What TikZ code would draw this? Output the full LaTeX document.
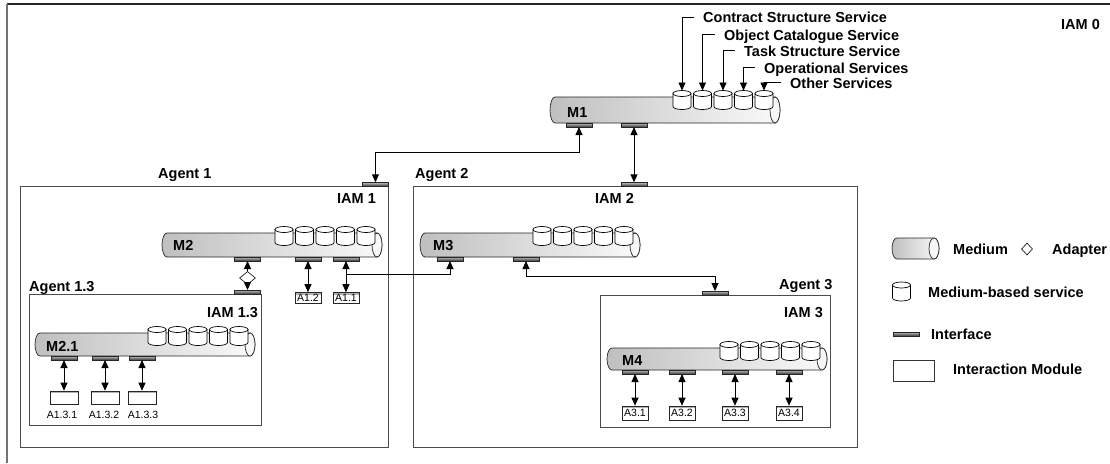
\documentclass[tikz,border=0pt]{standalone}
\usepackage{fontspec}
\setmainfont{Liberation Sans}
\usetikzlibrary{arrows.meta,calc,shapes.geometric}
\newcommand\mymedium[4]{%
  \pgfmathsetmacro\myry{(#4-#3)/2}%
  \pgfmathsetmacro\mymid{(#4+#3)/2}%
  \shade[draw=black!85, line width=0.7pt, left color=gray!50, right color=gray!4]
    (#1+5,#3) -- (#2-5,#3) arc[start angle=90,end angle=-90,x radius=5pt,y radius=\myry pt]
    -- (#1+5,#4) arc[start angle=270,end angle=90,x radius=5pt,y radius=\myry pt] -- cycle;
  \draw[line width=0.7pt, draw=black!85, fill=gray!6] (#2-5,\mymid) ellipse[x radius=5pt,y radius=\myry pt];
}
\newcommand\myservice[3]{%
  \draw[line width=0.7pt, fill=white] (#2-9,#3+3) -- (#2-9,#3+16)
    arc[start angle=180,end angle=360,x radius=9pt,y radius=3pt] -- (#2+9,#3+3) -- cycle;
  \draw[line width=0.7pt, fill=white] (#2,#3+3) ellipse[x radius=9pt,y radius=3pt];
  \coordinate (#1) at (#2,#3);
}
\newcommand\myservices[3]{% prefix, right end, top
  \foreach \i in {0,...,4} {%
    \pgfmathsetmacro\cx{#2-98+20.5*\i}%
    \myservice{#1\i}{\cx}{#3}%
  }%
}
\begin{document}
\begin{tikzpicture}[x=1pt,y=-1pt,
  lab/.style={font=\fontsize{14.5}{16}\selectfont\bfseries, inner sep=0pt, anchor=base west},
  small/.style={font=\fontsize{10.5}{12}\selectfont, inner sep=0pt},
  iface/.style={rectangle, draw=black!85, line width=0.5pt, top color=gray!55, bottom color=black!75,
    minimum width=26pt, minimum height=3.5pt, inner sep=0pt},
  module/.style={rectangle, draw=black!85, line width=0.6pt, fill=white, minimum width=26pt,
    minimum height=11pt, inner sep=0pt, font=\fontsize{10.5}{12}\selectfont,
    path picture={\fill[gray!60] (path picture bounding box.north west) rectangle ([yshift=-2.2pt]path picture bounding box.north east);}},
  agentbox/.style={draw=black!70, line width=1pt, inner sep=0pt, anchor=north west},
  arr/.style={line width=0.9pt, {Triangle[length=8pt,width=7pt]}-{Triangle[length=8pt,width=7pt]}},
  arrend/.style={line width=0.9pt, -{Triangle[length=8pt,width=7pt]}},
  adapter/.style={diamond, draw=black, line width=0.6pt, fill=white, minimum width=16pt, minimum height=13pt, inner sep=0pt}
]
\useasboundingbox (0,0) rectangle (1110,463);
% outer frame IAM 0
\draw[black!85, line width=1.3pt] (7,4) -- (1110,4);
\draw[black!55, line width=1.5pt] (7,4) -- (7,463);
\node[lab] (iam0) at (1061,29) {IAM 0};

% agent boxes
\node[agentbox, minimum width=368pt, minimum height=261pt] (ag1) at (20,186) {};
\node[agentbox, minimum width=232pt, minimum height=131pt] (ag13) at (29,294) {};
\node[agentbox, minimum width=444pt, minimum height=261pt] (ag2) at (413,186) {};
\node[agentbox, minimum width=230pt, minimum height=132pt] (ag3) at (600,295) {};

% M1
\mymedium{550}{780}{97}{123}
\myservices{ma}{780}{90.5}
\node[lab] (m1) at (567,117) {M1};
\node[lab] (t0) at (703,23) {Contract Structure Service};
\node[lab] (t1) at (724,40) {Object Catalogue Service};
\node[lab] (t2) at (744,56) {Task Structure Service};
\node[lab] (t3) at (764,73) {Operational Services};
\node[lab] (t4) at (790,88) {Other Services};
\foreach \i in {0,...,4} {\draw[arrend] ([shift={(-9pt,6pt)}]t\i.base west) -| (ma\i);}
\node[iface] (m1i1) at (579,125) {};
\node[iface] (m1i2) at (634,125) {};

% Agent 1
\node[lab] (a1t) at (158,178) {Agent 1};
\node[lab] (iam1) at (337,203) {IAM 1};
\node[iface] (ag1i) at (375.5,184.3) {};
\mymedium{162}{382}{233}{257}
\myservices{mb}{382}{226.5}
\node[lab] (m2) at (173,250) {M2};
\node[iface] (m2i1) at (247.5,259) {};
\node[iface] (m2i2) at (308,259) {};
\node[iface] (m2i3) at (346,259) {};
\node[module] (a12) at (308,298) {A1.2};
\node[module] (a11) at (346,298) {A1.1};
\node[adapter] (ad) at (247.5,278) {};

% Agent 1.3
\node[lab] (a13t) at (29,291) {Agent 1.3};
\node[lab] (iam13) at (207,317) {IAM 1.3};
\node[iface] (ag13i) at (247.5,292) {};
\mymedium{35}{255}{333}{356}
\myservices{mc}{255}{326.5}
\node[lab] (m21) at (46,351) {M2.1};
\node[iface] (m21i1) at (64,358) {};
\node[iface] (m21i2) at (105,358) {};
\node[iface] (m21i3) at (142,358) {};
\node[module, minimum width=28pt, minimum height=13pt] (a131) at (64,397.5) {};
\node[module, minimum width=28pt, minimum height=13pt] (a132) at (105,397.5) {};
\node[module, minimum width=28pt, minimum height=13pt] (a133) at (142,397.5) {};
\node[small, anchor=base] (a131l) at (62,418) {A1.3.1};
\node[small, anchor=base] (a132l) at (104,418) {A1.3.2};
\node[small, anchor=base] (a133l) at (143,418) {A1.3.3};

% Agent 2
\node[lab] (a2t) at (415,178) {Agent 2};
\node[lab] (iam2) at (595,203) {IAM 2};
\node[iface] (ag2i) at (634,184.3) {};
\mymedium{420}{640}{233}{257}
\myservices{md}{640}{226.5}
\node[lab] (m3) at (433,250) {M3};
\node[iface] (m3i1) at (450,259) {};
\node[iface] (m3i2) at (526,259) {};

% Agent 3
\node[lab] (a3t) at (779,289) {Agent 3};
\node[lab] (iam3) at (784,317) {IAM 3};
\node[iface] (ag3i) at (715,293) {};
\mymedium{607}{827}{348}{370}
\myservices{me}{827}{341.5}
\node[lab] (m4) at (622,365) {M4};
\node[iface] (m4i1) at (635,372) {};
\node[iface] (m4i2) at (682,372) {};
\node[iface] (m4i3) at (735,372) {};
\node[iface] (m4i4) at (789,372) {};
\node[module, minimum height=14pt] (a31) at (635,413) {A3.1};
\node[module, minimum height=14pt] (a32) at (682,413) {A3.2};
\node[module, minimum height=14pt] (a33) at (735,413) {A3.3};
\node[module, minimum height=14pt] (a34) at (789,413) {A3.4};

% connectors
\draw[arr] (m1i1.south) -- ++(0,25) -| (ag1i.north);
\draw[arr] (m1i2.south) -- (ag2i.north);
\draw[arrend] (ad.north) -- (m2i1.south);
\draw[arrend] (ad.south) -- (ag13i.north);
\draw[arr] (m2i2.south) -- (a12.north);
\draw[arr] (m2i3.south) -- (a11.north);
\coordinate (j1) at (346,274);
\draw[arrend] (j1) -| (m3i1.south);
\draw[arr] (m3i2.south) -- ++(0,15) -| (ag3i.north);
\foreach \k in {1,2,3} {\draw[arr] (m21i\k.south) -- (a13\k.north);}
\foreach \k in {1,2,3,4} {\draw[arr] (m4i\k.south) -- (a3\k.north);}

% legend
\mymedium{892}{939}{238}{259}
\node[lab] (lg1) at (953,254) {Medium};
\node[adapter, minimum width=11pt, minimum height=12pt] (lga) at (1027,249) {};
\node[lab] (lg2) at (1052,254) {Adapter};
\myservice{lgs}{901.5}{282}
\node[lab] (lg3) at (928,297) {Medium-based service};
\node[iface] (lgi) at (906.5,334) {};
\node[lab] (lg4) at (931,339) {Interface};
\node[draw=black!80, line width=0.7pt, minimum width=41pt, minimum height=21pt, inner sep=0pt, anchor=north west] (lgm) at (893,360) {};
\node[lab] (lg5) at (953,374) {Interaction Module};
\end{tikzpicture}
\end{document}
